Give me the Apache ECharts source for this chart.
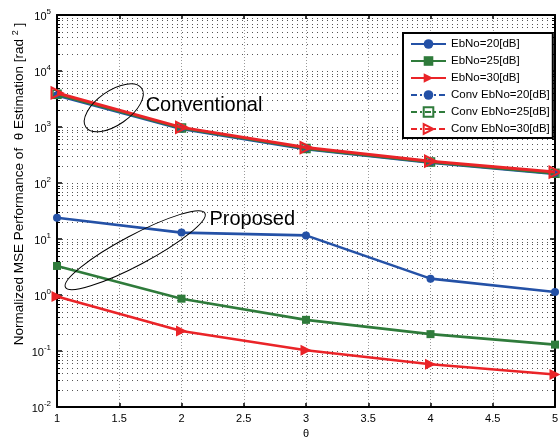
<!DOCTYPE html>
<html>
<head>
<meta charset="utf-8">
<script src="https://cdn.jsdelivr.net/npm/echarts@6/dist/echarts.min.js"></script>
<style>
  html, body { margin: 0; padding: 0; background: #fff; }
  #chart { width: 560px; height: 439px; }
</style>
</head>
<body>
<div id="chart"></div>
<script>
// theta values on the x axis
const thetas = [1, 2, 3, 4, 5];

// proposed estimator, normalized MSE [rad^2]
const propEb20 = [24, 13, 11.6, 1.96, 1.13];
const propEb25 = [3.3, 0.86, 0.36, 0.20, 0.13];
const propEb30 = [0.94, 0.227, 0.103, 0.058, 0.038];

// conventional estimator, normalized MSE [rad^2]
const convEb20 = [3700, 930, 405, 232, 146];
const convEb25 = [3850, 955, 415, 238, 150];
const convEb30 = [4050, 985, 430, 245, 157];

const seriesNames = [
  'EbNo=20[dB]', 'EbNo=25[dB]', 'EbNo=30[dB]',
  'Conv EbNo=20[dB]', 'Conv EbNo=25[dB]', 'Conv EbNo=30[dB]'
];

// axis ranges
const xRange = [1, 5];
const xStep = 0.5;
const yRange = [1e-2, 1e5];
const minorMultipliers = [2, 3, 4, 5, 6, 7, 8, 9];

const FONT = '"Liberation Sans", Arial, Helvetica, sans-serif';
const BLUE = '#2451a6';
const GREEN = '#2f7b3b';
const RED = '#ea2428';

const pairs = ys => thetas.map((t, i) => [t, ys[i]]);

// log-decade minor gridline values (2..9 x 10^k)
const minorValues = [];
for (let k = Math.log10(yRange[0]); k < Math.log10(yRange[1]); k++) {
  minorMultipliers.forEach(m => minorValues.push([xRange[0], m * Math.pow(10, k)]));
}

function lineSeries(name, data, color, symbol, opts) {
  return Object.assign({
    name: name,
    type: 'line',
    data: pairs(data),
    symbol: symbol,
    symbolSize: 8,
    itemStyle: { color: color },
    lineStyle: { color: color, width: 2.6 },
    z: 3
  }, opts || {});
}

const chart = echarts.init(document.getElementById('chart'), null, { renderer: 'canvas' });

const option = {
  animation: false,
  backgroundColor: '#fff',
  textStyle: { fontFamily: FONT },
  grid: { left: 57, right: 5, top: 15, bottom: 32, containLabel: false, outerBoundsMode: 'none' },
  xAxis: [{
    type: 'value',
    min: xRange[0], max: xRange[1], interval: xStep,
    name: 'θ', nameLocation: 'middle', nameGap: 20,
    nameTextStyle: { fontSize: 11, color: '#000', fontFamily: FONT },
    axisLine: { show: true, lineStyle: { color: '#000', width: 2 } },
    axisTick: { inside: true, length: 4, lineStyle: { color: '#000', width: 1.5 } },
    axisLabel: { margin: 6, fontSize: 11, color: '#000', fontFamily: FONT },
    splitLine: { show: true, lineStyle: { color: '#9a9a9a', type: [1, 2], width: 1 } }
  }, {
    type: 'value', position: 'top',
    min: xRange[0], max: xRange[1], interval: xStep,
    axisLine: { show: true, lineStyle: { color: '#000', width: 2 } },
    axisTick: { inside: true, length: 4, lineStyle: { color: '#000', width: 1.5 } },
    axisLabel: { show: false },
    splitLine: { show: false }
  }],
  yAxis: [{
    type: 'log', logBase: 10,
    min: yRange[0], max: yRange[1],
    axisLine: { show: true, lineStyle: { color: '#000', width: 2 } },
    axisTick: { inside: true, length: 5, lineStyle: { color: '#000', width: 1.5 } },
    axisLabel: {
      margin: 6, color: '#000',
      formatter: v => '{b|10}{e|' + Math.round(Math.log10(v)) + '}',
      rich: {
        b: { fontSize: 11, fontFamily: FONT, color: '#000', verticalAlign: 'bottom' },
        e: { fontSize: 8, fontFamily: FONT, color: '#000', verticalAlign: 'top', padding: [0, 0, 6, 0] }
      }
    },
    splitLine: { show: true, lineStyle: { color: '#555', type: [1, 4], width: 1 } }
  }, {
    type: 'log', logBase: 10, position: 'right',
    min: yRange[0], max: yRange[1],
    axisLine: { show: true, lineStyle: { color: '#000', width: 2 } },
    axisTick: { inside: true, length: 5, lineStyle: { color: '#000', width: 1.5 } },
    axisLabel: { show: false },
    splitLine: { show: false }
  }],
  legend: {
    left: 403, top: 33,
    orient: 'vertical',
    itemWidth: 35, itemHeight: 12, itemGap: 5,
    padding: [5, 3, 3, 7],
    borderColor: '#000', borderWidth: 2, borderRadius: 0,
    backgroundColor: '#fff',
    textStyle: { fontSize: 11.5, lineHeight: 12, color: '#000', fontFamily: FONT },
    data: [
      { name: seriesNames[0] },
      { name: seriesNames[1] },
      { name: seriesNames[2] },
      { name: seriesNames[3], lineStyle: { type: [6, 3, 2, 3] } },
      { name: seriesNames[4], lineStyle: { type: [6, 3, 2, 3] } },
      { name: seriesNames[5], lineStyle: { type: [6, 3, 2, 3] } }
    ],
    z: 20
  },
  series: [
    {
      // log minor gridlines and minor ticks on both y axes
      type: 'custom',
      silent: true,
      z: 1,
      data: minorValues,
      encode: { x: 0, y: 1 },
      renderItem: function (params, api) {
        const v = api.value(1);
        const l = api.coord([xRange[0], v]);
        const r = api.coord([xRange[1], v]);
        const y = Math.round(l[1]) + 0.5;
        return {
          type: 'group',
          children: [
            { type: 'line', shape: { x1: l[0], y1: y, x2: r[0], y2: y },
              style: { stroke: '#555', lineWidth: 1, lineDash: [1, 4] } },
            { type: 'line', shape: { x1: l[0], y1: y, x2: l[0] + 3, y2: y },
              style: { stroke: '#000', lineWidth: 1 } },
            { type: 'line', shape: { x1: r[0] - 3, y1: y, x2: r[0], y2: y },
              style: { stroke: '#000', lineWidth: 1 } }
          ]
        };
      }
    },
    lineSeries(seriesNames[0], propEb20, BLUE, 'circle'),
    lineSeries(seriesNames[1], propEb25, GREEN, 'rect'),
    lineSeries(seriesNames[2], propEb30, RED, 'triangle', { symbolSize: 11, symbolRotate: -90 }),
    lineSeries(seriesNames[3], convEb20, BLUE, 'circle', { z: 4, lineStyle: { color: BLUE, width: 3 } }),
    lineSeries(seriesNames[4], convEb25, GREEN, 'rect', {
      z: 5,
      itemStyle: { color: 'rgba(255,255,255,0)', borderColor: GREEN, borderWidth: 1.5 },
      lineStyle: { color: GREEN, width: 3 }
    }),
    lineSeries(seriesNames[5], convEb30, RED, 'triangle', {
      z: 6, symbolSize: 11, symbolRotate: -90,
      itemStyle: { color: 'rgba(255,255,255,0)', borderColor: RED, borderWidth: 2 },
      lineStyle: { color: RED, width: 3 }
    })
  ]
};

chart.setOption(option);

// Annotation ellipses and labels, anchored in data space
const notes = {
  conv: { center: [1.456, 2200], rx: 34, ry: 17, angle: 35, text: 'Conventional', textAt: [1.712, 2450] },
  prop: { center: [1.628, 6.3], rx: 79, ry: 15, angle: 28, text: 'Proposed', textAt: [2.224, 22] }
};

const graphics = [];
Object.keys(notes).forEach(key => {
  const n = notes[key];
  const c = chart.convertToPixel({ gridIndex: 0 }, n.center);
  const t = chart.convertToPixel({ gridIndex: 0 }, n.textAt);
  graphics.push({
    type: 'ellipse', silent: true, z: 10,
    x: c[0], y: c[1], rotation: n.angle * Math.PI / 180,
    shape: { cx: 0, cy: 0, rx: n.rx, ry: n.ry },
    style: { fill: null, stroke: '#000', lineWidth: 1 }
  });
  graphics.push({
    type: 'text', silent: true, z: 10,
    x: t[0], y: t[1],
    style: { text: n.text, fontSize: 20, fontFamily: FONT, fill: '#000', textAlign: 'left', textVerticalAlign: 'middle' }
  });
});

// y axis title
graphics.push({
  type: 'text', silent: true, z: 10,
  x: 19, y: 184, rotation: Math.PI / 2,
  style: {
    text: '{a|Normalized MSE Performance of  θ Estimation [rad }{s|2}{a| ]}',
    textAlign: 'center', textVerticalAlign: 'middle',
    rich: {
      a: { fontSize: 13.5, fontFamily: FONT, fill: '#000', verticalAlign: 'bottom' },
      s: { fontSize: 9, fontFamily: FONT, fill: '#000', verticalAlign: 'top', padding: [0, 0, 6, 0] }
    }
  }
});

chart.setOption({ graphic: graphics });
</script>
</body>
</html>
